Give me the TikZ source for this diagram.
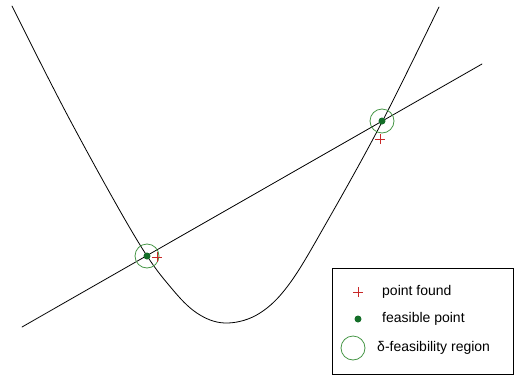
\documentclass[tikz,border=0pt]{standalone}
\usepackage{fontspec}
\setmainfont{Liberation Sans}
\usepackage{tikz}
\usetikzlibrary{positioning,shapes.misc}
\definecolor{figgreen}{RGB}{20,110,40}
\definecolor{figring}{RGB}{70,150,70}
\definecolor{figred}{RGB}{200,40,40}
\tikzset{
  fcurve/.style  ={black,line width=0.8pt,line cap=round},
  fring/.style   ={circle,draw=figring,line width=0.8pt,inner sep=0pt,minimum size=24pt},
  fdot/.style    ={circle,draw=none,fill=figgreen,inner sep=0pt,minimum size=7pt},
  fplus/.style   ={cross out,draw=figred,line width=0.9pt,inner sep=0pt,minimum size=6.5pt,rotate=45},
  fbox/.style    ={draw=black,line width=0.8pt},
  ftext/.style   ={anchor=west,inner sep=0pt,font=\fontsize{14}{16}\selectfont},
}
% a solution: ring, feasible point and the point found beside it
\newcommand{\solpt}[5]{%
  \node[fring] (#1r) at (#2,#3) {};
  \node[fdot] (#1d) at (#2,#3) {};
  \node[fplus] (#1p) at (#4,#5) {};
}

\begin{document}
\begin{tikzpicture}[x=1pt,y=-1pt]
      \useasboundingbox (0,0) rectangle (515,376);
      % the straight line
      \coordinate (lA) at (22,327);
      \coordinate (lB) at (482,64);
      \draw[fcurve] (lA) -- (lB);
      % the curve
      \draw[fcurve] plot[smooth,tension=0.6] coordinates {(12,6) (70,120) (137,240) (173,290)
        (200,315) (228,323) (260,313) (290,283) (328,220) (382,122) (439,7)};
      \solpt{A}{147}{256}{157}{257}
      \solpt{B}{382}{121}{380}{139}
      % legend
      \node[fbox,minimum width=181pt,minimum height=106pt,inner sep=0pt,anchor=north west] (key) at (332,268) {};
      \node[fplus] (kplus) at (358,292) {};
      \node[ftext] (tplus) at (382,292) {point found};
      \node[fdot] (kdot) at (358,319) {};
      \node[ftext] (tdot) at (382,319) {feasible point};
      \node[fring] (kring) at (353,348) {};
      \node[ftext] (tring) at (377,348) {δ-feasibility region};
    \end{tikzpicture}
\end{document}
